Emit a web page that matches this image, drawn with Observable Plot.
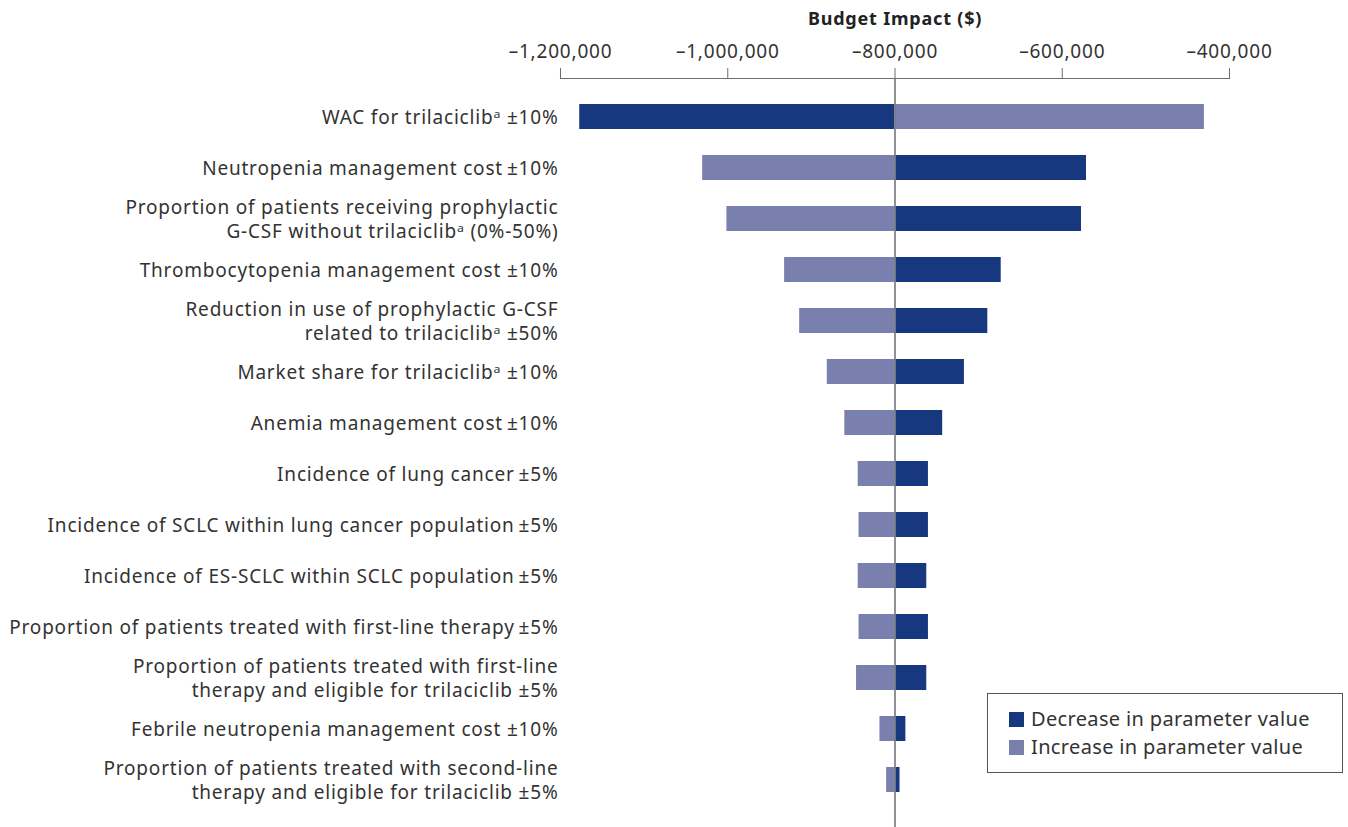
<!DOCTYPE html>
<html>
<head>
<meta charset="utf-8">
<script src="https://cdn.jsdelivr.net/npm/d3@7"></script>
<script src="https://cdn.jsdelivr.net/npm/@observablehq/plot@0.6"></script>
<style>
  html, body { margin: 0; padding: 0; background: #fff; }
  #wrap { position: relative; width: 1348px; height: 827px; font-family: "Noto Sans", sans-serif; color: #333; }
  #legend { position: absolute; left: 987px; top: 693px; width: 354px; height: 78px; border: 1.5px solid #555; box-sizing: content-box; }
  .item { position: absolute; left: 21px; display: flex; align-items: center; font-size: 20px; letter-spacing: 0.35px; color: #333; white-space: nowrap; line-height: 24px; }
  .sw { width: 15px; height: 15px; margin-right: 7px; }
</style>
</head>
<body>
<div id="wrap"></div>
<script>
// Parameters (rows, top to bottom)
const parameters = [
  "WAC for trilaciclib\u1D43 \u00B110%",
  "Neutropenia management cost\u2009\u00B110%",
  "Proportion of patients receiving prophylactic\nG-CSF without trilaciclib\u1D43 (0%-50%)",
  "Thrombocytopenia management cost \u00B110%",
  "Reduction in use of prophylactic G-CSF\nrelated to trilaciclib\u1D43 \u00B150%",
  "Market share for trilaciclib\u1D43 \u00B110%",
  "Anemia management cost\u2009\u00B110%",
  "Incidence of lung cancer\u2009\u00B15%",
  "Incidence of SCLC within lung cancer population\u2009\u00B15%",
  "Incidence of ES-SCLC within SCLC population\u2009\u00B15%",
  "Proportion of patients treated with first-line therapy\u2009\u00B15%",
  "Proportion of patients treated with first-line\ntherapy and eligible for trilaciclib \u00B15%",
  "Febrile neutropenia management cost \u00B110%",
  "Proportion of patients treated with second-line\ntherapy and eligible for trilaciclib \u00B15%"
];
// Budget impact ($) when the parameter is decreased
const decreaseValues = [-1177000, -571000, -577000, -673000, -689000, -717000, -743000, -760000, -760000, -762000, -760000, -762000, -787000, -794000];
// Budget impact ($) when the parameter is increased
const increaseValues = [-430000, -1030000, -1001000, -932000, -914000, -881000, -860000, -844000, -843000, -844000, -843000, -846000, -818000, -810000];
const baseCase = -800000;
const xTicks = [-1200000, -1000000, -800000, -600000, -400000];
const seriesNames = ["Decrease in parameter value", "Increase in parameter value"];
const seriesColors = ["#17387e", "#7a80ad"];

const rows = [];
parameters.forEach((p, i) => {
  rows.push({param: p, series: seriesNames[0], base: baseCase, value: decreaseValues[i]});
  rows.push({param: p, series: seriesNames[1], base: baseCase, value: increaseValues[i]});
});

const fmt = d => (d < 0 ? "\u2013" : "") + d3.format(",")(Math.abs(d));

const chart = Plot.plot({
  width: 1348,
  height: 827,
  marginTop: 78,
  marginLeft: 560,
  marginRight: 119,
  marginBottom: 0,
  style: {fontFamily: "Noto Sans, sans-serif", fontSize: "19px", letterSpacing: "0.8px", color: "#333", background: "#fff"},
  x: {domain: [-1200000, -400000]},
  y: {domain: parameters, range: [90.5, 804.5], paddingInner: 0.51, paddingOuter: 0.255},
  color: {domain: seriesNames, range: seriesColors},
  marks: [
    Plot.barX(rows, {y: "param", x1: "base", x2: "value", fill: "series"}),
    Plot.ruleX([baseCase], {stroke: "#7c7f85", strokeWidth: 1.7}),
    Plot.frame({anchor: "top", stroke: "#6e6e6e", strokeWidth: 1.2}),
    Plot.axisX({anchor: "top", ticks: xTicks, tickFormat: fmt, tickSize: 11, tickPadding: 10, stroke: "#6e6e6e", fill: "#333", fontSize: 19, label: null}),
    Plot.axisY({ticks: [], label: null}),
    Plot.text(parameters, {y: d => d, text: d => d, frameAnchor: "left", dx: -2, dy: -1, textAnchor: "end", lineAnchor: "middle", lineHeight: 1.27, fontSize: 19, fill: "#333"}),
    Plot.text(["Budget Impact ($)"], {frameAnchor: "top", dy: -59, lineAnchor: "middle", text: d => d, fontWeight: "bold", fontSize: 18, fill: "#222"})
  ]
});

const wrap = document.getElementById("wrap");
wrap.appendChild(chart);

const legend = document.createElement("div");
legend.id = "legend";
seriesNames.forEach((name, i) => {
  const item = document.createElement("div");
  item.className = "item";
  item.style.top = (i === 0 ? 13 : 41) + "px";
  const sw = document.createElement("span");
  sw.className = "sw";
  sw.style.background = seriesColors[i];
  const t = document.createElement("span");
  t.textContent = name;
  item.appendChild(sw);
  item.appendChild(t);
  legend.appendChild(item);
});
wrap.appendChild(legend);
</script>
</body>
</html>
